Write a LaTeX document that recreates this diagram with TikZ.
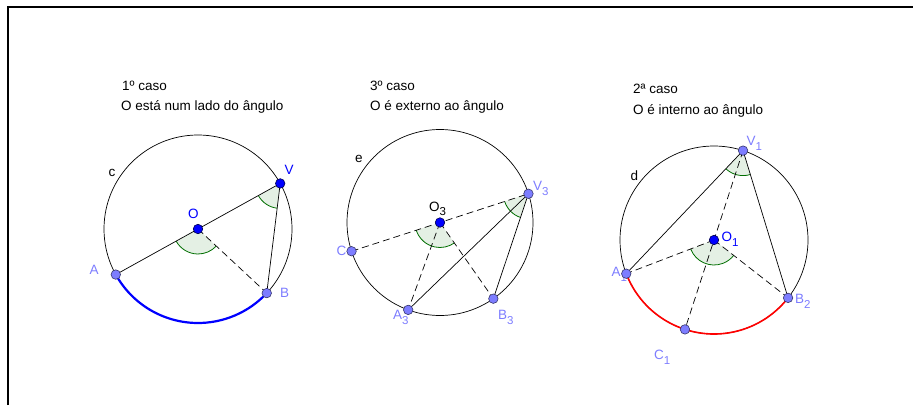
\documentclass[tikz,border=0pt]{standalone}
\usepackage{fontspec}
\setmainfont{Liberation Sans}
\definecolor{ptblue}{RGB}{125,125,255}
\definecolor{ptedge}{RGB}{55,55,110}
\definecolor{ctrblue}{RGB}{0,0,255}
\definecolor{ctredge}{RGB}{0,0,80}
\definecolor{angline}{RGB}{0,110,0}
\definecolor{angfill}{RGB}{228,240,228}
\usetikzlibrary{angles,calc}
\newcommand{\idx}[1]{\raisebox{-5pt}{\fontsize{11.5}{12}\selectfont #1}}

\begin{document}
\begin{tikzpicture}[x=1pt, y=1pt,
  font=\fontsize{13.5}{16}\selectfont,
  circ/.style={line width=0.7pt},
  seg/.style={line width=0.7pt},
  dsh/.style={line width=0.7pt, dash pattern=on 7pt off 4pt},
  sect/.style={draw=angline, fill=angfill, line width=0.8pt, angle radius=25pt},
  gpoint/.style={circle, fill=ptblue, draw=ptedge, line width=0.6pt, inner sep=0pt, minimum size=9.5pt},
  gcenter/.style={gpoint, fill=ctrblue, draw=ctredge},
  plabel/.style={anchor=base west, inner sep=0pt, text=ptblue},
  txt/.style={anchor=base west, inner sep=0pt}]
  \useasboundingbox (0,0) rectangle (913,405);
  \draw[line width=1.3pt] (8,0) -- (8,398) -- (913,398);

  % 1o caso
  \coordinate (O) at (198,176);
  \path (O) ++(29:94) coordinate (V)
        (O) ++(209:94) coordinate (A)
        (O) ++(317:94) coordinate (B);
  \draw[circ] (O) circle[radius=94];
  \draw[blue, line width=2.2pt] (A) arc[start angle=209, end angle=317, radius=94];
  \pic[sect] {angle=A--O--B};
  \pic[sect] {angle=A--V--B};
  \draw[seg] (A) -- (V) -- (B);
  \draw[dsh] (O) -- (B);
  \node[gpoint] (pA) at (A) {};
  \node[gpoint] (pB) at (B) {};
  \node[gcenter] (pV) at (V) {};
  \node[gcenter] (pO) at (O) {};
  \node[txt] (t1) at (122,314) {1º caso};
  \node[txt] (t1b) at (121,294) {O está num lado do ângulo};
  \node[txt] (lc) at (108.5,229) {c};
  \node[plabel, text=ctrblue] (lO) at (188,186.5) {O};
  \node[plabel, text=ctrblue] (lV) at (284.5,230.5) {V};
  \node[plabel] (lA) at (89.5,130.5) {A};
  \node[plabel] (lB) at (280,107.5) {B};

  % 3o caso
  \coordinate (O3) at (440,182.5);
  \path (O3) ++(18:93) coordinate (V3)
        (O3) ++(198:93) coordinate (C)
        (O3) ++(250:93) coordinate (A3)
        (O3) ++(305:93) coordinate (B3);
  \draw[circ] (O3) circle[radius=93];
  \pic[sect] {angle=C--O3--B3};
  \pic[sect] {angle=C--V3--B3};
  \draw[dsh] (C) -- (V3);
  \draw[seg] (A3) -- (V3) -- (B3);
  \draw[dsh] (O3) -- (A3);
  \draw[dsh] (O3) -- (B3);
  \node[gpoint] (pC) at (C) {};
  \node[gpoint] (pA3) at (A3) {};
  \node[gpoint] (pB3) at (B3) {};
  \node[gpoint] (pV3) at (V3) {};
  \node[gcenter] (pO3) at (O3) {};
  \node[txt] (t3) at (370,314.5) {3º caso};
  \node[txt] (t3b) at (370,294.5) {O é externo ao ângulo};
  \node[txt] (le) at (355,242.5) {e};
  \node[txt] (lO3) at (429,194) {O\idx{3}};
  \node[plabel] (lV3) at (533,214.5) {V\idx{3}};
  \node[plabel] (lC) at (336.5,150) {C};
  \node[plabel] (lA3) at (393,85.5) {A\idx{3}};
  \node[plabel] (lB3) at (498,85.5) {B\idx{3}};

  % 2a caso
  \coordinate (O1) at (714,165);
  \path (O1) ++(72:94) coordinate (V1)
        (O1) ++(201:94) coordinate (A1)
        (O1) ++(252:94) coordinate (C1)
        (O1) ++(322:94) coordinate (B2);
  \draw[circ] (O1) circle[radius=94];
  \draw[red, line width=1.6pt] (A1) arc[start angle=201, end angle=322, radius=94];
  \pic[sect] {angle=A1--O1--B2};
  \pic[sect] {angle=A1--V1--B2};
  \draw[seg] (A1) -- (V1) -- (B2);
  \draw[dsh] (V1) -- (C1);
  \draw[dsh] (O1) -- (A1);
  \draw[dsh] (O1) -- (B2);
  \node[plabel] (lA1) at (611.5,129) {A\idx{1}};
  \node[gpoint] (pA1) at (A1) {};
  \node[gpoint] (pB2) at (B2) {};
  \node[gpoint] (pC1) at (C1) {};
  \node[gpoint] (pV1) at (V1) {};
  \node[gcenter] (pO1) at (O1) {};
  \node[txt] (t2) at (633,311) {2ª caso};
  \node[txt] (t2b) at (633,290.5) {O é interno ao ângulo};
  \node[txt] (ld) at (630.5,225) {d};
  \node[plabel] (lV1) at (746.5,259) {V\idx{1}};
  \node[plabel, text=ctrblue] (lO1) at (721.5,163.5) {O\idx{1}};
  \node[plabel] (lB2) at (795,102) {B\idx{2}};
  \node[plabel] (lC1) at (654,46) {C\idx{1}};
\end{tikzpicture}
\end{document}
